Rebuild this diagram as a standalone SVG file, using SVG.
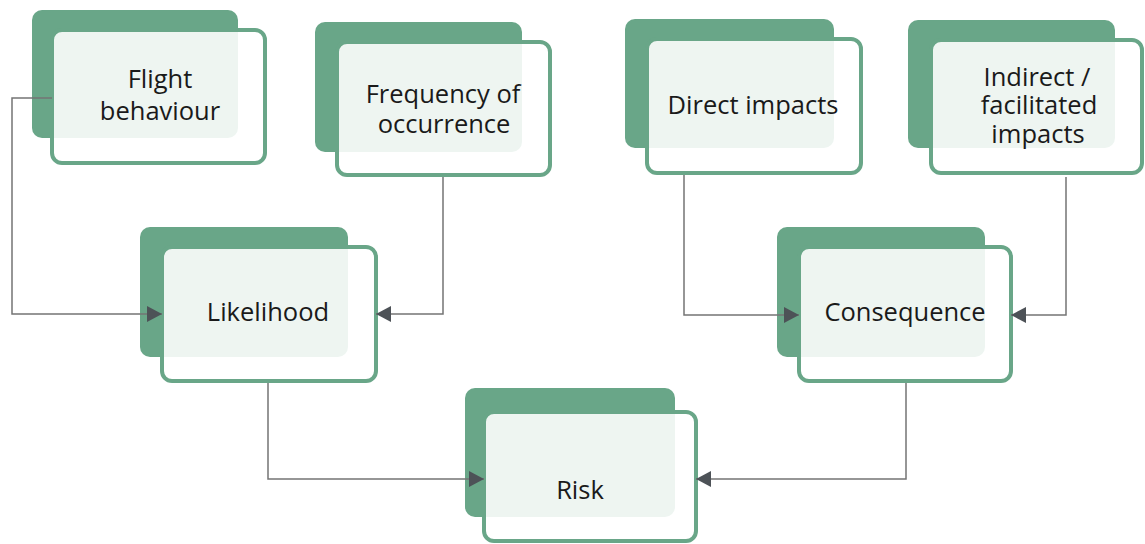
<svg xmlns="http://www.w3.org/2000/svg" width="1145" height="544" viewBox="0 0 1145 544">
<defs>
<style>
.back{fill:#69a688;}
.front{fill:#ffffff;fill-opacity:0.886;stroke:#69a688;stroke-width:4;}
.lbl{font-family:"Open Sans","Liberation Sans",sans-serif;font-size:25.5px;fill:#1a1a1a;text-anchor:middle;}
.conn{fill:none;stroke:#747474;stroke-width:1.5;marker-end:url(#arr);}
</style>
<marker id="arr" viewBox="0 0 15 16" refX="15" refY="8" markerWidth="15" markerHeight="16" markerUnits="userSpaceOnUse" orient="auto">
<path d="M0,0 L15,8 L0,16 Z" fill="#4d5257"/>
</marker>
</defs>
<rect width="1145" height="544" fill="#ffffff"/>
<g id="flight">
<rect class="back" x="32" y="10" width="206" height="128" rx="10"/>
<rect class="front" x="52" y="30" width="213" height="133" rx="10"/>
<text class="lbl" x="160" y="88">Flight</text>
<text class="lbl" x="160" y="120">behaviour</text>
</g>
<g id="frequency">
<rect class="back" x="315" y="22" width="207" height="130" rx="10"/>
<rect class="front" x="337" y="42" width="213" height="133" rx="10"/>
<text class="lbl" x="443" y="103">Frequency of</text>
<text class="lbl" x="444" y="133">occurrence</text>
</g>
<g id="direct">
<rect class="back" x="625" y="19" width="209" height="129" rx="10"/>
<rect class="front" x="647" y="39" width="214" height="134" rx="10"/>
<text class="lbl" x="753" y="114">Direct impacts</text>
</g>
<g id="indirect">
<rect class="back" x="908" y="20" width="207" height="128" rx="10"/>
<rect class="front" x="931" y="40" width="211" height="133" rx="10"/>
<text class="lbl" x="1037" y="86">Indirect /</text>
<text class="lbl" x="1039" y="114">facilitated</text>
<text class="lbl" x="1038" y="143">impacts</text>
</g>
<g id="likelihood">
<rect class="back" x="140" y="227" width="208" height="130" rx="10"/>
<rect class="front" x="162" y="247" width="214" height="134" rx="10"/>
<text class="lbl" x="268" y="321">Likelihood</text>
</g>
<g id="consequence">
<rect class="back" x="777" y="227" width="208" height="130" rx="10"/>
<rect class="front" x="799" y="247" width="212" height="134" rx="10"/>
<text class="lbl" x="905" y="321">Consequence</text>
</g>
<g id="risk">
<rect class="back" x="465" y="388" width="210" height="129" rx="10"/>
<rect class="front" x="484" y="412" width="212" height="129" rx="10"/>
<text class="lbl" x="580" y="499">Risk</text>
</g>
<g id="connectors">
<path class="conn" d="M52,98 H12 V314 H162"/>
<path class="conn" d="M443,177 V314 H376"/>
<path class="conn" d="M268,383 V479 H484"/>
<path class="conn" d="M684,175 V315 H799"/>
<path class="conn" d="M1066,177 V315 H1011"/>
<path class="conn" d="M906,383 V479 H696"/>
</g>
</svg>
